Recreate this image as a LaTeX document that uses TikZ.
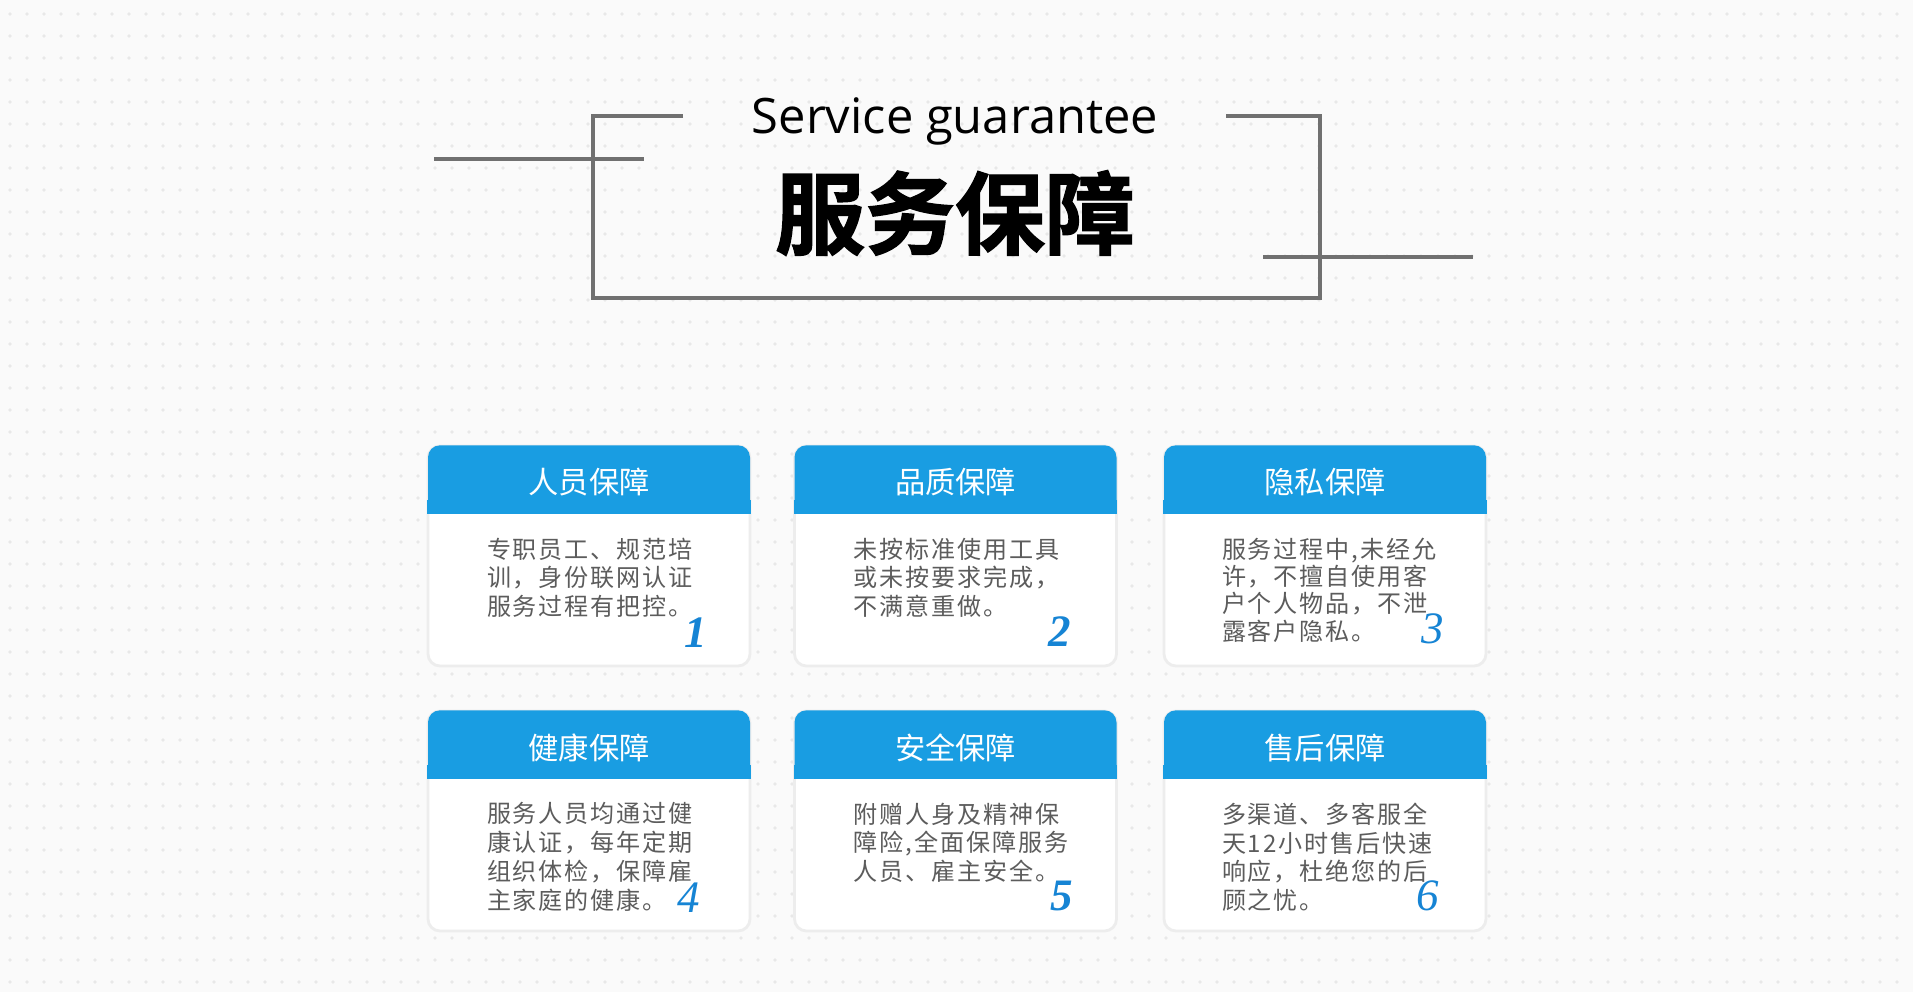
\documentclass[tikz,border=0pt]{standalone}
\usepackage{fontspec}
\setmainfont{Open Sans}
\newfontfamily\cjk{Noto Sans CJK SC}
\newfontfamily\cjkbody[LetterSpace=8]{Noto Sans CJK SC}
\newfontfamily\cjkheavy[FakeBold=1.5]{Noto Sans CJK SC Bold}
\newfontfamily\numfont{Liberation Serif}
\usepackage{xcolor}
\definecolor{accent}{RGB}{25,157,226}
\definecolor{numblue}{RGB}{22,132,212}
\definecolor{bodygray}{RGB}{92,92,92}
\definecolor{framegray}{RGB}{112,112,112}
\definecolor{background}{RGB}{250,250,250}
\definecolor{dotgray}{RGB}{232,232,232}
\usetikzlibrary{positioning}

\tikzset{
  card/.style={fill=white, draw=black!7, line width=0.8pt, rounded corners=0.12cm, minimum width=3.22cm, minimum height=2.2cm, inner sep=0pt},
  header/.style={fill=accent, rounded corners=0.12cm, minimum width=3.22cm, minimum height=0.68cm, inner sep=0pt, text height=0.33cm, text depth=0.036cm, text=white, font=\cjk\fontsize{8.6}{10}\selectfont},
  body/.style={font=\cjkbody\fontsize{6.85}{8.2}\selectfont, text=bodygray, align=left, inner sep=0pt},
  num/.style={font=\numfont\itshape\fontsize{12.8}{14}\selectfont, text=numblue, inner sep=0pt, anchor=center},
  frame/.style={draw=framegray, line width=0.9pt},
}

\begin{document}
\begin{tikzpicture}
\useasboundingbox (0,0) rectangle (19.13,9.92);
\fill[background] (0,0) rectangle (19.13,9.92);
\foreach \x in {0.1,0.27,...,19.1}
  \foreach \y in {0.1,0.32,...,9.9}
    \fill[dotgray] (\x,\y) circle (0.018);

% title
\node (entitle) [anchor=base, font=\fontsize{13.9}{16}\selectfont] at (9.55,8.59) {Service guarantee};
\node (cntitle) [font=\cjkheavy\fontsize{25.6}{30}\selectfont] at (9.55,7.79) {服务保障};
\draw[frame] (6.83,8.76) -- (5.93,8.76) -- (5.93,6.94) -- (13.20,6.94) -- (13.20,8.76) -- (12.26,8.76);
\draw[frame, line width=1pt] (4.34,8.33) -- (6.44,8.33);
\draw[frame, line width=1pt] (12.63,7.35) -- (14.73,7.35);

% cards
\node (card1) [card] at (5.89,4.36) {};
\node (card2) [card] at (9.555,4.36) {};
\node (card3) [card] at (13.25,4.36) {};
\node (card4) [card] at (5.89,1.71) {};
\node (card5) [card] at (9.555,1.71) {};
\node (card6) [card] at (13.25,1.71) {};

\node (h1) [header, below=0pt of card1.north] {人员保障};
\node (h2) [header, below=0pt of card2.north] {品质保障};
\node (h3) [header, below=0pt of card3.north] {隐私保障};
\node (h4) [header, below=0pt of card4.north] {健康保障};
\node (h5) [header, below=0pt of card5.north] {安全保障};
\node (h6) [header, below=0pt of card6.north] {售后保障};
\fill[accent] (h1.south west) ++(0,0.14) rectangle (h1.south east);
\fill[accent] (h2.south west) ++(0,0.14) rectangle (h2.south east);
\fill[accent] (h3.south west) ++(0,0.14) rectangle (h3.south east);
\fill[accent] (h4.south west) ++(0,0.14) rectangle (h4.south east);
\fill[accent] (h5.south west) ++(0,0.14) rectangle (h5.south east);
\fill[accent] (h6.south west) ++(0,0.14) rectangle (h6.south east);

\node (b1) [body, below right=0.23cm and 0.59cm of h1.south west] {专职员工、规范培\\训，身份联网认证\\服务过程有把控。};
\node (b2) [body, below right=0.23cm and 0.59cm of h2.south west] {未按标准使用工具\\或未按要求完成，\\不满意重做。};
\node (b3) [body, below right=0.23cm and 0.58cm of h3.south west, font=\cjkbody\fontsize{6.85}{7.8}\selectfont] {服务过程中,未经允\\许，不擅自使用客\\户个人物品，不泄\\露客户隐私。};
\node (b4) [body, below right=0.23cm and 0.59cm of h4.south west] {服务人员均通过健\\康认证，每年定期\\组织体检，保障雇\\主家庭的健康。};
\node (b5) [body, below right=0.23cm and 0.59cm of h5.south west] {附赠人身及精神保\\障险,全面保障服务\\人员、雇主安全。};
\node (b6) [body, below right=0.23cm and 0.58cm of h6.south west] {多渠道、多客服全\\天12小时售后快速\\响应，杜绝您的后\\顾之忧。};

\node (n1) [below left=1.19cm and 0.55cm of h1.south east, num] {\bfseries 1};
\node (n2) [below left=1.18cm and 0.57cm of h2.south east, num] {\bfseries 2};
\node (n3) [below left=1.15cm and 0.54cm of h3.south east, num] {3};
\node (n4) [below left=1.19cm and 0.62cm of h4.south east, num] {4};
\node (n5) [below left=1.17cm and 0.55cm of h5.south east, num] {\bfseries 5};
\node (n6) [below left=1.17cm and 0.59cm of h6.south east, num] {6};
\end{tikzpicture}
\end{document}
